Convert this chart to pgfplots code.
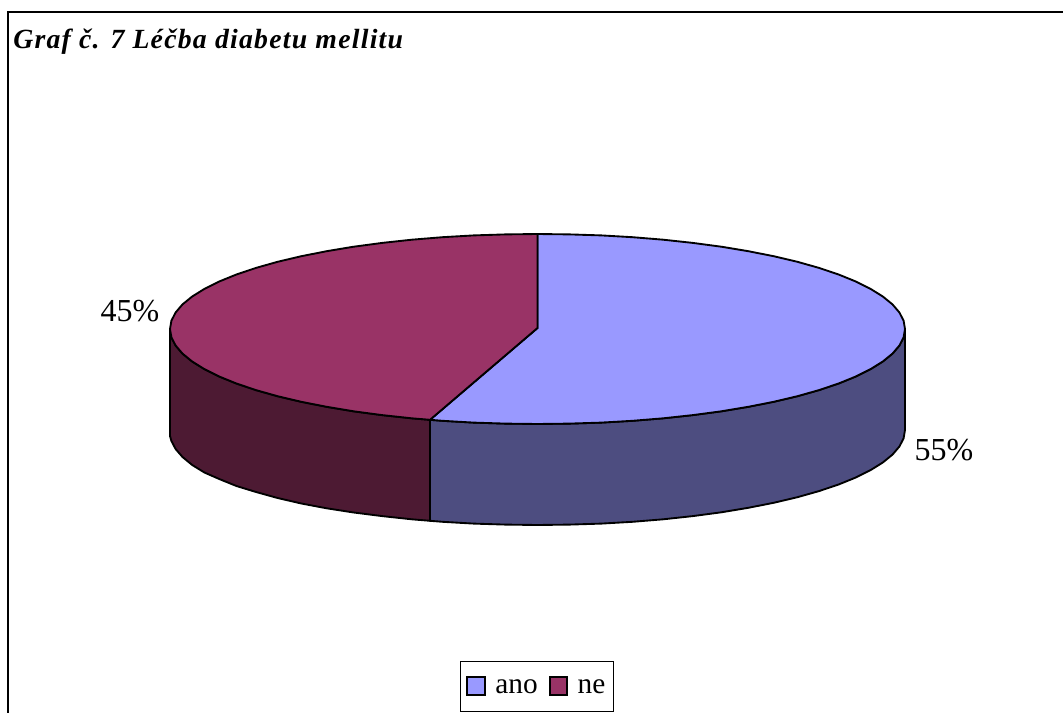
\documentclass[border=0pt]{standalone}
\usepackage{pgfplots}
\pgfplotsset{compat=1.18}
\usepackage{fontspec}
\setmainfont{Liberation Serif}
\newfontfamily\titlefont[LetterSpace=4.5]{Liberation Serif}
\definecolor{anoTop}{HTML}{9999FF}
\definecolor{anoSide}{HTML}{4D4D80}
\definecolor{neTop}{HTML}{993366}
\definecolor{neSide}{HTML}{4D1A33}
\begin{document}
\begin{tikzpicture}
\useasboundingbox (0,0) rectangle (797.25pt,534.75pt);
\begin{axis}[
  at={(0,0)}, anchor=south west,
  scale only axis, width=797.25pt, height=534.75pt,
  xmin=0, xmax=1063, ymin=0, ymax=713, y dir=reverse,
  hide axis,
  legend columns=2,
  legend image code/.code={
    \path[draw=none, fill=none] (-3pt,0pt) rectangle (17pt,1pt);
    \draw[#1, line width=1.4pt] (0pt,-1pt) rectangle (13pt,12pt);
  },
  legend style={
    at={(axis cs:537,686.5)}, anchor=center,
    draw=black, line width=0.75pt, fill=white,
    font=\fontsize{22}{24}\selectfont,
    inner xsep=2.2pt, inner ysep=11.4pt,
    /tikz/column 2/.style={column sep=2pt},
    nodes={inner xsep=4pt, inner ysep=1pt, anchor=base},
  },
]
% chart frame, running off the right and bottom edges
\addplot[black, line width=1.6pt, forget plot] coordinates {(8,720) (8,12) (1070,12)};

% side walls of the disc
\addplot[fill=anoSide, draw=black, line width=1.4pt, forget plot] coordinates {
  (905,329) (903.6,337.3) (899.4,345.5) (892.5,353.6) (882.8,361.5) (870.6,369.1)
  (855.8,376.5) (838.6,383.5) (819,390.1) (797.4,396.2) (773.7,401.8) (748.3,406.8)
  (721.3,411.3) (692.8,415.1) (663.2,418.3) (632.6,420.8) (601.3,422.6) (569.5,423.6)
  (537.5,424) (505.5,423.6) (473.7,422.6) (442.4,420.8) (430,419.8)
  (430,520.8) (442.4,521.8) (473.7,523.6) (505.5,524.6) (537.5,525) (569.5,524.6)
  (601.3,523.6) (632.6,521.8) (663.2,519.3) (692.8,516.1) (721.3,512.3) (748.3,507.8)
  (773.7,502.8) (797.4,497.2) (819,491.1) (838.6,484.5) (855.8,477.5) (870.6,470.1)
  (882.8,462.5) (892.5,454.6) (899.4,446.5) (903.6,438.3) (905,430)
} -- cycle;
\addplot[fill=neSide, draw=black, line width=1.4pt, forget plot] coordinates {
  (430,419.8) (411.8,418.3) (382.2,415.1) (353.7,411.3) (326.7,406.8) (301.3,401.8)
  (277.6,396.2) (256,390.1) (236.4,383.5) (219.2,376.5) (204.4,369.1) (192.2,361.5)
  (182.5,353.6) (175.6,345.5) (171.4,337.3) (170,329)
  (170,436) (171.4,441) (175.6,449) (182.5,457) (192.2,465) (204.4,472.5) (219.2,479)
  (236.4,486) (256,492) (277.6,498) (301.3,503.5) (326.7,508.3) (353.7,512.5)
  (382.2,516.1) (411.8,519.3) (430,520.8)
} -- cycle;

% top faces of the two slices
\addplot[fill=anoTop, draw=black, line width=1.4pt] coordinates {
  (537.5,328) (537.5,234) (569.5,234.4) (601.3,235.4) (632.6,237.2) (663.2,239.7)
  (692.8,242.9) (721.3,246.7) (748.3,251.2) (773.7,256.2) (797.4,261.8) (819,267.9)
  (838.6,274.5) (855.8,281.5) (870.6,288.9) (882.8,296.5) (892.5,304.4) (899.4,312.5)
  (903.6,320.7) (905,329) (903.6,337.3) (899.4,345.5) (892.5,353.6) (882.8,361.5)
  (870.6,369.1) (855.8,376.5) (838.6,383.5) (819,390.1) (797.4,396.2) (773.7,401.8)
  (748.3,406.8) (721.3,411.3) (692.8,415.1) (663.2,418.3) (632.6,420.8) (601.3,422.6)
  (569.5,423.6) (537.5,424) (505.5,423.6) (473.7,422.6) (442.4,420.8) (430,419.8)
} -- cycle;
\addlegendentry{ano}
\addplot[fill=neTop, draw=black, line width=1.4pt] coordinates {
  (537.5,328) (430,419.8) (411.8,418.3) (382.2,415.1) (353.7,411.3) (326.7,406.8)
  (301.3,401.8) (277.6,396.2) (256,390.1) (236.4,383.5) (219.2,376.5) (204.4,369.1)
  (192.2,361.5) (182.5,353.6) (175.6,345.5) (171.4,337.3) (170,329) (171.4,320.7)
  (175.6,312.5) (182.5,304.4) (192.2,296.5) (204.4,288.9) (219.2,281.5) (236.4,274.5)
  (256,267.9) (277.6,261.8) (301.3,256.2) (326.7,251.2) (353.7,246.7) (382.2,242.9)
  (411.8,239.7) (442.4,237.2) (473.7,235.4) (505.5,234.4) (537.5,234)
} -- cycle;
\addlegendentry{ne}

% share labels and heading
\node[font=\fontsize{24}{26}\selectfont, inner sep=0pt] at (axis cs:130,311) {45\%};
\node[font=\fontsize{24}{26}\selectfont, inner sep=0pt] at (axis cs:944,450) {55\%};
\node[font=\titlefont\fontsize{20.8}{23}\selectfont\bfseries\itshape, inner sep=0pt, anchor=base west]
  at (axis cs:13,49) {Graf č. 7 Léčba diabetu mellitu};
\end{axis}
\end{tikzpicture}
\end{document}
